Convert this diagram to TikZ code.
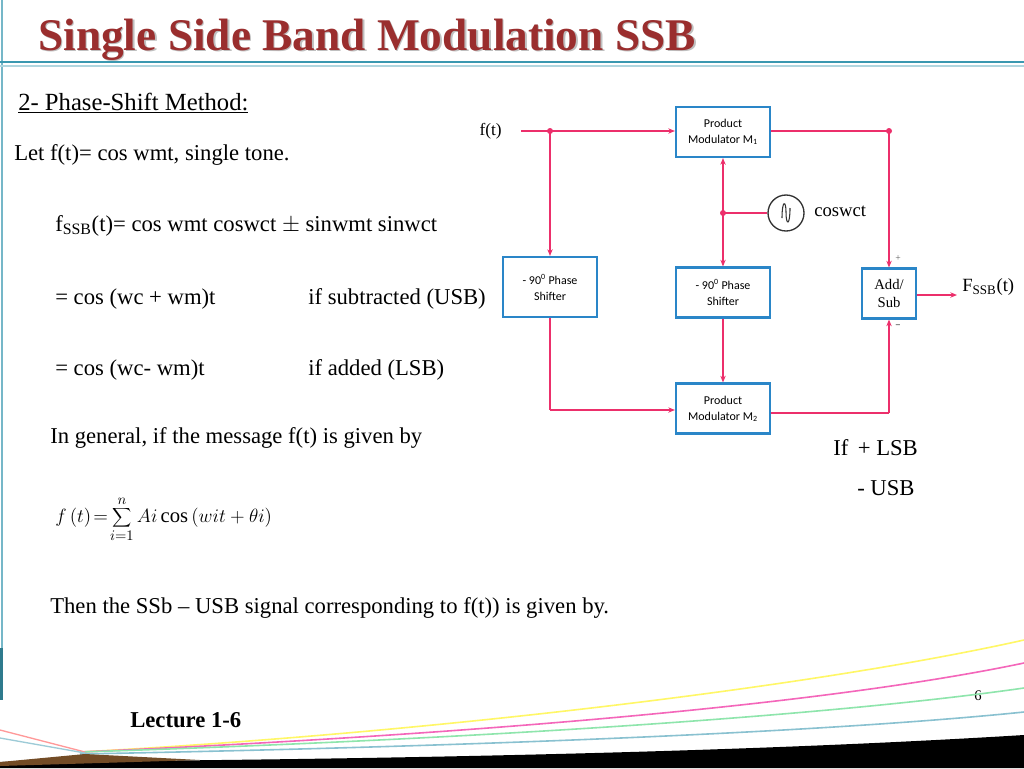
\documentclass[tikz,border=0pt]{standalone}
\usepackage{fontspec}
\setmainfont{Liberation Serif}
\newfontfamily\boxfont{Carlito}
\newfontfamily\titlefont{Liberation Serif}
\usetikzlibrary{arrows.meta}
\definecolor{wire}{HTML}{EC2F6B}
\definecolor{boxc}{HTML}{2A86C8}
\definecolor{titc}{HTML}{9A2E2E}
\definecolor{teal}{HTML}{3A98B0}
\tikzset{
 blk/.style={draw=boxc,line width=1.6pt,fill=white,minimum width=70.5pt,minimum height=37.5pt,align=center,font=\boxfont\fontsize{9}{12}\selectfont,inner sep=1pt},
 wr/.style={draw=wire,line width=1.5pt},
 ar/.style={wr,-{Stealth[length=5pt,width=4pt]}},
 dot/.style={circle,fill=wire,inner sep=0pt,minimum size=4.5pt},
 txt/.style={anchor=base west,inner sep=0pt,font=\fontsize{17}{19}\selectfont}
}
\begin{document}
\begin{tikzpicture}[x=0.75pt,y=-0.75pt]
\useasboundingbox (0,0) rectangle (1024,768);
\fill[white] (0,0) rectangle (1024,768);
% frame
\draw[teal!70,line width=1pt] (2,0) -- (2,648);
\fill[teal!80!black] (0,648) rectangle (3,700);
\draw[teal,line width=1.2pt] (0,62) -- (1024,62);
\draw[teal!40,line width=2pt] (0,66) -- (1024,66);
% title
\node[anchor=base west,inner sep=0pt,text=gray!50] at (39.5,51.5) {\titlefont\bfseries\fontsize{34}{36}\selectfont Single Side Band Modulation SSB};
\node[anchor=base west,inner sep=0pt,text=titc] at (38,50) {\titlefont\bfseries\fontsize{34}{36}\selectfont Single Side Band Modulation SSB};
% text
\node[txt,font=\fontsize{18.5}{20}\selectfont] (t1) at (18,110) {\underline{2- Phase-Shift Method:}};
\node[txt] (t2) at (14,160) {Let f(t)= cos wmt, single tone.};
\node[txt] (t3) at (55,231) {f\textsubscript{SSB}(t)= cos wmt coswct $\pm$ sinwmt sinwct};
\node[txt] (t4) at (55,304) {= cos (wc + wm)t};
\node[txt] (t5) at (308,304) {if subtracted (USB)};
\node[txt] (t6) at (55,375) {= cos (wc- wm)t};
\node[txt] (t7) at (308,375) {if added (LSB)};
\node[txt] (t8) at (50,443) {In general, if the message f(t) is given by};
\node[anchor=west,inner sep=0pt,font=\fontsize{15.5}{18}\selectfont] (fm) at (55,519) {$f\,(t)\!=\!\displaystyle\sum_{i=1}^{n} Ai\cos\left(wit+\theta i\right)$};
\node[txt] (t9) at (50,613) {Then the SSb -- USB signal corresponding to f(t)) is given by.};
\node[txt] (t10) at (833,455) {If\, + LSB};
\node[txt] (t11) at (857,495) {- USB};
% diagram
\node[blk] (m1) at (723,132) {Product\\Modulator M\textsubscript{1}};
\node[blk] (m2) at (723,408.5) {Product\\Modulator M\textsubscript{2}};
\node[blk,minimum height=45pt] (p1) at (550,287) {- 90\textsuperscript{0} Phase\\Shifter};
\node[blk] (p2) at (723,292.5) {- 90\textsuperscript{0} Phase\\Shifter};
\node[blk,minimum width=40.5pt,font=\fontsize{11}{13}\selectfont] (as) at (889,293.5) {Add/\\Sub};
\node[circle,draw=black!80,line width=1pt,minimum size=27pt,inner sep=0pt] (osc) at (786,213) {};
\draw[black!80,line width=0.8pt] (782,218) .. controls (782,200) and (786,200) .. (786,212) .. controls (786,226) and (790,226) .. (790,208);
\node[anchor=west,inner sep=0pt,font=\fontsize{14}{16}\selectfont] (cw) at (814,211) {coswct};
\node[anchor=east,inner sep=0pt,font=\fontsize{13}{16}\selectfont] (ft) at (502,131) {f(t)};
\node[anchor=west,inner sep=0pt,font=\fontsize{14}{16}\selectfont] (fo) at (962,287) {F\textsubscript{SSB}(t)};
\node[font=\sffamily\fontsize{5}{6}\selectfont,inner sep=0pt] (pl) at (898,258) {+};
\node[font=\sffamily\fontsize{6}{6}\selectfont,inner sep=0pt] (mi) at (898,326) {--};
\coordinate (j1) at (550,131);
\coordinate (j2) at (889,131);
\coordinate (j3) at (723,213);
\coordinate (c1) at (550,410);
\coordinate (c2) at (889,413);
\coordinate (fe) at (957,295);
\coordinate (fs) at (521,131);
\draw[ar] (fs) -- (m1.west|-j1);
\draw[ar] (j1) -- (p1.north);
\draw[wr] (m1.east|-j2) -- (j2);
\draw[ar] (j2) -- (as.north);
\draw[ar] (j3) -- (m1.south);
\draw[ar] (j3) -- (p2.north);
\draw[wr] (osc.west) -- (j3);
\draw[ar] (p2.south) -- (m2.north);
\draw[wr] (p1.south) -- (c1);
\draw[ar] (c1) -- (m2.west|-c1);
\draw[wr] (m2.east|-c2) -- (c2);
\draw[ar] (c2) -- (as.south);
\draw[ar] (as.east|-fe) -- (fe);
\node[dot] at (j1) {};
\node[dot] at (j2) {};
\node[dot] at (j3) {};
% footer
\node[anchor=base,inner sep=0pt,font=\fontsize{11}{12}\selectfont] (pg) at (978,700) {6};
\node[anchor=base west,inner sep=0pt,font=\bfseries\fontsize{17}{18}\selectfont] (lec) at (130,727) {Lecture 1-6};
\draw[yellow!60,line width=1.2pt] (80,752) .. controls (400,735) and (800,690) .. (1024,640);
\draw[magenta!60,line width=1.2pt] (80,752) .. controls (400,738) and (800,710) .. (1024,663);
\draw[green!50!teal!50,line width=1.2pt] (80,752) .. controls (400,742) and (800,720) .. (1024,688);
\draw[teal!60,line width=1.2pt] (80,754) .. controls (400,748) and (800,735) .. (1024,712);
\draw[red!40,line width=1pt] (0,730) -- (85,752);
\draw[teal!50,line width=1pt] (0,738) -- (85,753);
\fill[black] (0,768) -- (0,762) .. controls (300,760) and (700,755) .. (1024,735) -- (1024,768) -- cycle;
\fill[brown!60!black] (0,762) -- (85,754) -- (200,760) -- (0,766) -- cycle;
\end{tikzpicture}
\end{document}
